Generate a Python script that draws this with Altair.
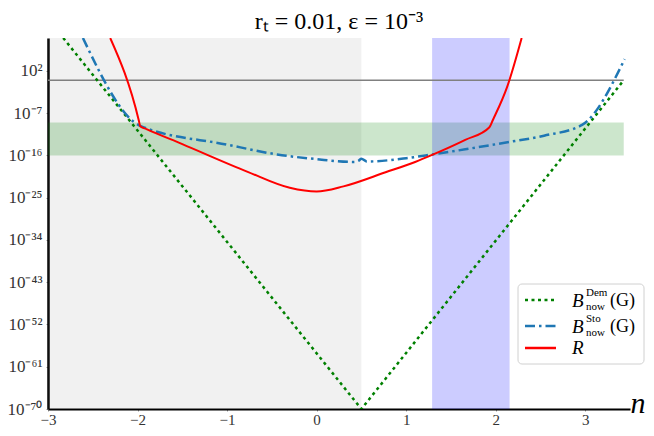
import altair as alt
import pandas as pd

# ---- data (log10 values) ----
x_ticks = [-3, -2, -1, 0, 1, 2, 3]
y_tick_exps = [-70, -61, -52, -43, -34, -25, -16, -7, 2]

dem_n = [-2.83, 0.5, 3.43]
dem_exp = [9.0, -70.0, 0.0]

sto_n = [-2.61, -1.97, -1.0, -0.44, 0.0, 0.42, 0.47, 0.5, 0.56, 1.0, 1.29, 1.66, 2.1, 2.54, 2.965, 3.44]
sto_exp = [9.0, -9.7, -13.7, -15.8, -16.8, -17.4, -17.1, -16.7, -17.3, -16.6, -15.8, -14.7, -13.3, -11.8, -9.5, 4.5]

r_n = [-2.305, -1.985, -1.97, -1.9, -1.5, -0.77, -0.3, 0.0, 0.3, 0.77, 1.1, 1.29, 1.66, 1.93, 1.97, 2.13, 2.29]
r_exp = [9.0, -8.6, -9.8, -10.4, -13.6, -19.5, -22.9, -23.7, -22.6, -19.6, -17.4, -15.9, -12.7, -10.0, -8.4, -1.3, 9.0]

gray_region = {"n0": -3.0, "n1": 0.5}
blue_region = {"n0": 1.29, "n1": 2.155}
green_band_exp = (-16.0, -9.0)
hline_exp = 0.0
band_n = (-3.0, 3.43)

y_lo, y_hi = 1e-70, 1e9

# ---- helpers ----
SERIF = "Liberation Serif"
sup = str.maketrans("-0123456789", "⁻⁰¹²³⁴⁵⁶⁷⁸⁹")

label_expr = ""
for e in y_tick_exps:
    label_expr += f"round(log(datum.value)/LN10) == {e} ? '10{str(e).translate(sup)}' : "
label_expr += "''"

xscale = alt.Scale(domain=[-3, 3.5], nice=False, zero=False)
yscale = alt.Scale(type="log", domain=[y_lo, y_hi], nice=False)

xaxis = alt.Axis(values=x_ticks, title=None, grid=False, labelFont=SERIF, labelFontSize=15,
                 labelColor="#333333", domainColor="black", domainWidth=2, tickColor="#999999",
                 tickSize=2, labelPadding=1, labelFlush=False)
yaxis = alt.Axis(values=[10.0 ** e for e in y_tick_exps], labelExpr=label_expr, title=None, grid=False,
                 labelFont=SERIF, labelFontSize=17, labelColor="#333333", domainColor="black",
                 domainWidth=2.5, tickColor="#999999", tickSize=2, labelPadding=4, labelFlush=False)


def X(f):
    return alt.X(f, scale=xscale, axis=xaxis)


def Y(f):
    return alt.Y(f, scale=yscale, axis=yaxis)


def line_df(ns, exps):
    return pd.DataFrame({"n": ns, "B": [10.0 ** e for e in exps], "i": list(range(len(ns)))})


dem_df = line_df(dem_n, dem_exp)
sto_df = line_df(sto_n, sto_exp)
r_df = line_df(r_n, r_exp)

regions = pd.DataFrame({
    "n0": [gray_region["n0"], blue_region["n0"]],
    "n1": [gray_region["n1"], blue_region["n1"]],
    "b0": [y_lo, y_lo], "b1": [y_hi, y_hi],
})
band_df = pd.DataFrame({"n0": [band_n[0]], "n1": [band_n[1]],
                        "b0": [10.0 ** green_band_exp[0]], "b1": [10.0 ** green_band_exp[1]]})
hline_df = pd.DataFrame({"n0": [band_n[0]], "n1": [band_n[1]], "b": [10.0 ** hline_exp]})

gray_rect = alt.Chart(regions.iloc[[0]]).mark_rect(color="#808080", opacity=0.11).encode(
    x=X("n0:Q"), x2="n1:Q", y=Y("b0:Q"), y2="b1:Q")
band_rect = alt.Chart(band_df).mark_rect(color="#008000", opacity=0.2).encode(
    x=X("n0:Q"), x2="n1:Q", y=Y("b0:Q"), y2="b1:Q")
blue_rect = alt.Chart(regions.iloc[[1]]).mark_rect(color="#0000ff", opacity=0.2).encode(
    x=X("n0:Q"), x2="n1:Q", y=Y("b0:Q"), y2="b1:Q")
hline = alt.Chart(hline_df).mark_rule(color="#808080", strokeWidth=1.5).encode(
    x=X("n0:Q"), x2="n1:Q", y=Y("b:Q"))

dem_line = alt.Chart(dem_df).mark_line(color="#008000", strokeWidth=2.5, strokeDash=[3, 3.5], clip=True).encode(
    x=X("n:Q"), y=Y("B:Q"), order="i:Q")
sto_line = alt.Chart(sto_df).mark_line(color="#1f77b4", strokeWidth=2.5, strokeDash=[10, 4, 2.5, 4], clip=True,
                                       interpolate="monotone").encode(
    x=X("n:Q"), y=Y("B:Q"), order="i:Q")
r_line = alt.Chart(r_df).mark_line(color="#ff0000", strokeWidth=2, clip=True, interpolate="monotone").encode(
    x=X("n:Q"), y=Y("B:Q"), order="i:Q")

# ---- legend (drawn by hand for the sub/superscripts) ----
one = pd.DataFrame({"k": [0]})
leg_box = alt.Chart(one).mark_rect(fill="white", stroke="#cccccc", strokeWidth=1, cornerRadius=4, opacity=0.9).encode(
    x=alt.value(470), x2=alt.value(596), y=alt.value(246), y2=alt.value(326))
leg_rows = [(262, "#008000", [3, 3.5], "Dem"), (288, "#1f77b4", [10, 4, 2.5, 4], "Sto"), (310, "#ff0000", None, None)]
legend_layers = [leg_box]
for yy, col, dash, supt in leg_rows:
    kw = {"strokeDash": dash} if dash else {}
    legend_layers.append(alt.Chart(one).mark_rule(color=col, strokeWidth=2.5, **kw).encode(
        x=alt.value(477), x2=alt.value(508), y=alt.value(yy)))
    if supt:
        legend_layers.append(alt.Chart(one).mark_text(text="B", font=SERIF, fontStyle="italic", fontSize=19,
                                                      align="left", baseline="middle").encode(
            x=alt.value(524), y=alt.value(yy + 1)))
        legend_layers.append(alt.Chart(one).mark_text(text=supt, font=SERIF, fontSize=11,
                                                      align="left", baseline="middle").encode(
            x=alt.value(538), y=alt.value(yy - 7)))
        legend_layers.append(alt.Chart(one).mark_text(text="now", font=SERIF, fontSize=11,
                                                      align="left", baseline="middle").encode(
            x=alt.value(538), y=alt.value(yy + 7)))
        legend_layers.append(alt.Chart(one).mark_text(text="(G)", font=SERIF, fontSize=18,
                                                      align="left", baseline="middle").encode(
            x=alt.value(562), y=alt.value(yy + 1)))
    else:
        legend_layers.append(alt.Chart(one).mark_text(text="R", font=SERIF, fontStyle="italic", fontSize=19,
                                                      align="left", baseline="middle").encode(
            x=alt.value(524), y=alt.value(yy)))

n_label = alt.Chart(one).mark_text(text="n", font=SERIF, fontStyle="italic", fontSize=30,
                                   align="center", baseline="middle").encode(
    x=alt.value(590), y=alt.value(366))

chart = alt.layer(gray_rect, band_rect, blue_rect, hline, dem_line, sto_line, r_line,
                  *legend_layers, n_label).properties(
    width=582, height=371,
    title=alt.TitleParams("rₜ = 0.01, ε = 10⁻³", font=SERIF, fontSize=24, fontWeight="normal",
                          color="black", anchor="middle", offset=4),
    autosize=alt.AutoSizeParams(type="none"),
    padding={"left": 40, "top": 30, "right": 16, "bottom": 19},
).configure_view(stroke=None)

chart.save("out.html", embed_options={"renderer": "svg", "actions": False})
